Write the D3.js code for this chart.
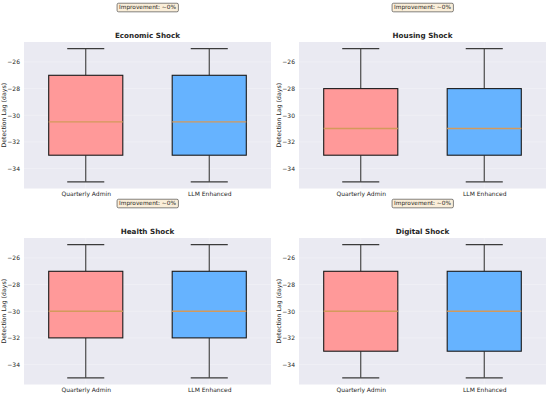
<!DOCTYPE html>
<html>
<head>
<meta charset="utf-8">
<script src="https://cdn.jsdelivr.net/npm/d3@7"></script>
<style>
  body { margin: 0; background: #ffffff; }
  text { font-family: "DejaVu Sans", sans-serif; fill: #262626; }
</style>
</head>
<body>
<div id="chart"></div>
<script>
// Chart data
const shocks = ["Economic Shock", "Housing Shock", "Health Shock", "Digital Shock"];
const methods = ["Quarterly Admin", "LLM Enhanced"];
const whiskerLow = [-35, -35, -35, -35];
const q1 = [-33, -33, -32, -33];
const medians = [-30.5, -31, -30, -30];
const q3 = [-27, -28, -27, -27];
const whiskerHigh = [-25, -25, -25, -25];
const yTicks = [-34, -32, -30, -28, -26];
const annotationText = "Improvement: ~0%";

const width = 550;
const height = 395;

const boxColors = ["#ff9999", "#66b3ff"];
const medianColor = "#d49a5c";
const bgColor = "#eaeaf2";

const svg = d3.select("#chart")
    .append("svg")
    .attr("width", width)
    .attr("height", height);

// panel positions (2 x 2 grid)
const panelLeft = [24, 299];
const panelTop = [42, 238];
const panelW = 247;
const panelH = 146.5;

shocks.forEach(function (name, i) {
    const col = i % 2, row = Math.floor(i / 2);
    const g = svg.append("g")
        .attr("transform", "translate(" + panelLeft[col] + "," + panelTop[row] + ")");

    const x = d3.scaleLinear().domain([0.5, 2.5]).range([0, panelW]);
    const y = d3.scaleLinear().domain([-35.5, -24.5]).range([panelH, 0]);

    g.append("rect")
        .attr("width", panelW)
        .attr("height", panelH)
        .attr("fill", bgColor);

    // grid lines (faint)
    g.selectAll(".gy")
        .data(yTicks)
        .enter().append("line")
        .attr("x1", 0).attr("x2", panelW)
        .attr("y1", d => y(d)).attr("y2", d => y(d))
        .attr("stroke", "#ffffff")
        .attr("stroke-opacity", 0.35)
        .attr("stroke-width", 0.8);

    g.selectAll(".gx")
        .data([1, 2])
        .enter().append("line")
        .attr("x1", d => x(d)).attr("x2", d => x(d))
        .attr("y1", 0).attr("y2", panelH)
        .attr("stroke", "#ffffff")
        .attr("stroke-opacity", 0.35)
        .attr("stroke-width", 0.8);

    // y axis
    const yAxis = g.append("g")
        .call(d3.axisLeft(y).tickValues(yTicks).tickSize(0).tickPadding(4)
            .tickFormat(d => "\u2212" + Math.abs(d)));
    yAxis.select(".domain").remove();
    yAxis.selectAll("text")
        .style("font-family", "DejaVu Sans")
        .style("font-size", "6px")
        .attr("fill", "#262626");

    // x axis
    const xAxis = g.append("g")
        .attr("transform", "translate(0," + panelH + ")")
        .call(d3.axisBottom(x).tickValues([1, 2]).tickSize(0).tickPadding(3.5)
            .tickFormat((d, k) => methods[k]));
    xAxis.select(".domain").remove();
    xAxis.selectAll("text")
        .style("font-family", "DejaVu Sans")
        .style("font-size", "6px")
        .attr("fill", "#262626");

    // y label
    g.append("text")
        .attr("transform", "translate(-18," + (panelH / 2) + ") rotate(-90)")
        .attr("text-anchor", "middle")
        .style("font-size", "6.2px")
        .text("Detection Lag (days)");

    // title
    g.append("text")
        .attr("x", panelW / 2)
        .attr("y", -4)
        .attr("text-anchor", "middle")
        .style("font-size", "7.2px")
        .style("font-weight", "bold")
        .text(name);

    // annotation box
    const ann = g.append("g")
        .attr("transform", "translate(" + (panelW / 2) + ",-35)");
    const annText = ann.append("text")
        .attr("text-anchor", "middle")
        .attr("dy", "0.35em")
        .style("font-size", "5.8px")
        .text(annotationText);
    const bb = annText.node().getBBox();
    ann.insert("rect", "text")
        .attr("x", bb.x - 2)
        .attr("y", bb.y - 0.8)
        .attr("width", bb.width + 4)
        .attr("height", bb.height + 1.6)
        .attr("rx", 1.5)
        .attr("fill", "#f5deb3")
        .attr("fill-opacity", 0.5)
        .attr("stroke", "#333333")
        .attr("stroke-width", 0.6);

    // boxes
    const boxW = 0.6, capW = 0.3;
    [1, 2].forEach(function (pos, k) {
        const bx = g.append("g");
        // whiskers
        bx.append("line")
            .attr("x1", x(pos)).attr("x2", x(pos))
            .attr("y1", y(whiskerLow[i])).attr("y2", y(q1[i]))
            .attr("stroke", "#3a3a3a").attr("stroke-width", 1.1);
        bx.append("line")
            .attr("x1", x(pos)).attr("x2", x(pos))
            .attr("y1", y(q3[i])).attr("y2", y(whiskerHigh[i]))
            .attr("stroke", "#3a3a3a").attr("stroke-width", 1.1);
        // caps
        [whiskerLow[i], whiskerHigh[i]].forEach(function (v) {
            bx.append("line")
                .attr("x1", x(pos - capW / 2)).attr("x2", x(pos + capW / 2))
                .attr("y1", y(v)).attr("y2", y(v))
                .attr("stroke", "#3a3a3a").attr("stroke-width", 1.1);
        });
        // box
        bx.append("rect")
            .attr("x", x(pos - boxW / 2))
            .attr("y", y(q3[i]))
            .attr("width", x(pos + boxW / 2) - x(pos - boxW / 2))
            .attr("height", y(q1[i]) - y(q3[i]))
            .attr("fill", boxColors[k])
            .attr("stroke", "#1a1a1a")
            .attr("stroke-width", 1.1);
        // median
        bx.append("line")
            .attr("x1", x(pos - boxW / 2)).attr("x2", x(pos + boxW / 2))
            .attr("y1", y(medians[i])).attr("y2", y(medians[i]))
            .attr("stroke", medianColor).attr("stroke-width", 1.4);
    });
});
</script>
</body>
</html>
